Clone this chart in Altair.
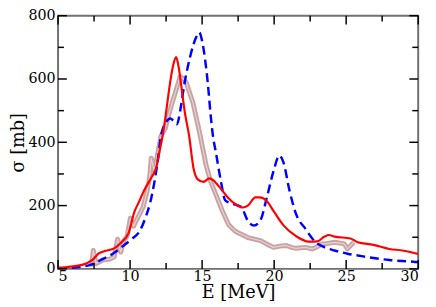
import altair as alt
import pandas as pd

# ---- data ----
red_E = [5.0, 5.5, 6.0, 6.5, 7.0, 7.45, 7.8, 8.3, 8.9, 9.35, 9.9, 10.3, 10.6, 11.0, 11.5,
         11.8, 12.1, 12.3, 12.5, 12.8, 13.0, 13.2, 13.4, 13.55, 13.8, 14.1, 14.4, 14.7,
         15.1, 15.5, 15.8, 16.3, 16.8, 17.3, 17.8, 18.2, 18.7, 19.0, 19.5, 20.0, 20.7,
         21.5, 22.4, 23.0, 23.5, 23.8, 24.2, 25.3, 25.8, 26.9, 28.0, 28.9, 30.0]
red_sigma = [4, 5, 8, 11, 18, 31, 48, 57, 65, 82, 114, 180, 210, 250, 290,
             318, 385, 432, 495, 595, 645, 669, 630, 580, 495, 420, 319, 283,
             275, 286, 279, 253, 225, 205, 194, 201, 226, 226, 214, 180, 135,
             104, 86, 87, 102, 107, 102, 96, 84, 76, 63, 58, 47]

blue_E = [5.0, 6.3, 7.2, 8.1, 8.8, 9.5, 10.1, 10.7, 11.1, 11.4, 11.9, 12.15, 12.6, 12.8,
          13.0, 13.25, 13.5, 13.7, 14.15, 14.6, 14.8, 15.05, 15.4, 15.6, 15.75, 15.95,
          16.3, 16.6, 17.0, 17.7, 18.2, 18.6, 19.06, 19.5, 19.96, 20.36, 20.63, 21.07,
          21.5, 22.2, 22.86, 23.5, 24.2, 25.1, 26.4, 28.0, 29.8, 30.0]
blue_sigma = [2, 5, 12, 31, 48, 72, 94, 122, 166, 210, 335, 421, 470, 475,
              468, 457, 505, 565, 667, 733, 747, 708, 585, 483, 421, 370,
              278, 217, 207, 196, 150, 137, 155, 227, 309, 358, 339, 247,
              176, 125, 85, 68, 58, 48, 38, 28, 22, 21]

exp_E = [7.3, 7.45, 7.65, 8.1, 8.6, 8.9, 9.13, 9.35, 9.57, 9.8, 10.02, 10.24, 10.58,
         10.91, 11.14, 11.36, 11.47, 11.69, 11.9, 12.15, 12.45, 12.7, 12.92, 13.26,
         13.48, 13.7, 13.93, 14.37, 14.82, 15.27, 15.6, 15.94, 16.38, 16.83, 17.28,
         17.5, 18.17, 19.06, 19.5, 19.96, 20.4, 20.85, 21.2, 21.52, 22.19, 22.63, 23.0,
         23.3, 23.53, 24.2, 24.87, 25.09, 25.42, 25.54]
exp_sigma = [8, 58, 17, 28, 31, 38, 94, 53, 89, 104, 160, 135, 166,
             196, 237, 290, 350, 309, 360, 420, 445, 490, 524, 575,
             608, 600, 585, 524, 432, 329, 275, 237, 186, 140, 120,
             114, 99, 89, 78, 68, 72, 74, 68, 65, 68, 63, 70,
             79, 79, 84, 79, 63, 79, 84]

x_major = [5, 10, 15, 20, 25, 30]
x_minor = [7.5, 12.5, 17.5, 22.5, 27.5]
y_major = [0, 200, 400, 600, 800]
y_minor = [100, 300, 500, 700]

W, H = 367, 258
FONT = "DejaVu Serif"

xs = alt.Scale(domain=[5, 30], nice=False, zero=False)
ys = alt.Scale(domain=[0, 800], nice=False, zero=True)

x_axis = alt.Axis(values=x_major, ticks=False, domain=False, grid=False,
                  labelPadding=1, title="E [MeV]", titlePadding=1,
                  labelFont=FONT, titleFont=FONT)
y_axis = alt.Axis(values=y_major, ticks=False, domain=False, grid=False,
                  labelPadding=3, title="σ [mb]", titlePadding=1,
                  labelFont=FONT, titleFont=FONT)

def X():
    return alt.X("E:Q", scale=xs, axis=x_axis)

def Y():
    return alt.Y("s:Q", scale=ys, axis=y_axis)

exp_df = pd.DataFrame({"E": exp_E, "s": exp_sigma})
red_df = pd.DataFrame({"E": red_E, "s": red_sigma})
blue_df = pd.DataFrame({"E": blue_E, "s": blue_sigma})

exp_outer = alt.Chart(exp_df).mark_line(color="#c9a3a3", strokeWidth=5, clip=True,
                                         strokeJoin="round").encode(x=X(), y=Y())
exp_inner = alt.Chart(exp_df).mark_line(color="#e6d2d2", strokeWidth=1.2, clip=True,
                                         strokeJoin="round").encode(x=X(), y=Y())
blue_line = alt.Chart(blue_df).mark_line(color="#0000ff", strokeWidth=2.5,
                                          strokeDash=[9, 5], interpolate="monotone",
                                          clip=True).encode(x=X(), y=Y())
red_line = alt.Chart(red_df).mark_line(color="#ff0000", strokeWidth=2.2,
                                        interpolate="monotone", clip=True).encode(x=X(), y=Y())

def xticks(vals, length, at_top):
    y0 = 0 if at_top else H
    y1 = length if at_top else H - length
    return alt.Chart(pd.DataFrame({"E": vals})).mark_rule(
        strokeWidth=1.5, color="black"
    ).encode(x=X(), y=alt.value(y0), y2=alt.value(y1))

def yticks(vals, length, at_right):
    x0 = W if at_right else 0
    x1 = W - length if at_right else length
    return alt.Chart(pd.DataFrame({"s": vals})).mark_rule(
        strokeWidth=1.5, color="black"
    ).encode(y=Y(), x=alt.value(x0), x2=alt.value(x1))

ticks = [
    xticks(x_major, 9, False), xticks(x_minor, 6, False),
    xticks(x_major, 9, True), xticks(x_minor, 6, True),
    yticks(y_major, 9, False), yticks(y_minor, 6, False),
    yticks(y_major, 9, True), yticks(y_minor, 6, True),
]

chart = alt.layer(exp_outer, exp_inner, blue_line, red_line, *ticks).properties(
    width=W, height=H,
    autosize=alt.AutoSizeParams(type="none"),
    padding={"left": 51, "top": 5, "right": 10, "bottom": 36},
).configure(
    background="white"
).configure_view(
    stroke="#707070", strokeWidth=2
).configure_axis(
    labelFontSize=14.5, labelColor="black",
    titleFontSize=18, titleFontWeight="normal", titleColor="black",
)

chart.save("out.html", embed_options={"renderer": "svg", "actions": False})
